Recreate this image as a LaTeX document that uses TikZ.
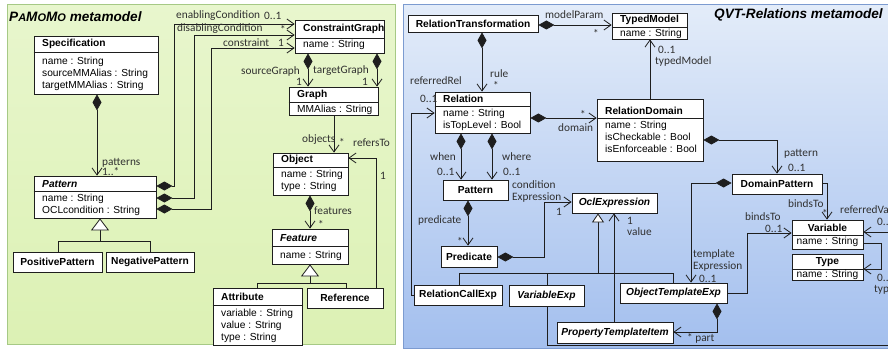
\documentclass[tikz,border=0pt]{standalone}
\usepackage{fontspec}
\setmainfont{Liberation Sans}
\newfontfamily\rolefont{Carlito}
\usetikzlibrary{arrows.meta,fit,shadows}

\definecolor{greenTop}{HTML}{E8F6CD}
\definecolor{greenBot}{HTML}{DCF1B4}
\definecolor{greenEdge}{HTML}{A6C985}
\definecolor{blueTop}{HTML}{E3ECF9}
\definecolor{blueBot}{HTML}{A3BFEE}
\definecolor{blueEdge}{HTML}{7C9BD0}
\definecolor{ink}{HTML}{1E1E1E}
\definecolor{roleink}{HTML}{303030}

\tikzset{
  x=1pt, y=-1pt,
  cls/.style={draw=ink, line width=0.8pt, fill=white, inner sep=0pt,
    drop shadow={shadow xshift=1pt, shadow yshift=-1pt, fill=black!45, opacity=0.8}},
  divline/.style={draw=ink, line width=0.8pt},
  hdr/.style={inner sep=0pt, font=\fontsize{10.2}{12}\selectfont\bfseries},
  ihdr/.style={inner sep=0pt, font=\fontsize{10.2}{12}\selectfont\bfseries\itshape},
  attr/.style={inner sep=0pt, anchor=north west, align=left, font=\fontsize{10.2}{12}\selectfont},
  role/.style={inner sep=0pt, anchor=west, text=roleink, font=\fontsize{11.3}{12}\selectfont\rolefont},
  wire/.style={draw=ink, line width=0.8pt},
  nav/.style={wire, -{Straight Barb[length=7pt,width=10pt]}},
  comp/.style={wire, {Diamond[length=16pt,width=9pt]}-{Straight Barb[length=7pt,width=10pt]}},
  gen/.style={wire, -{Triangle[open,length=12pt,width=18pt,fill=white]}},
  sgen/.style={wire, -{Triangle[open,length=9pt,width=12pt,fill=white]}},
  title/.style={inner sep=0pt, anchor=west, font=\fontsize{13.6}{15}\selectfont\bfseries\itshape},
}

\begin{document}
\begin{tikzpicture}
\useasboundingbox (0,0) rectangle (888,350);
\clip (0,0) rectangle (888,350);

% ---------- panels ----------
\path[top color=greenTop, bottom color=greenBot, draw=greenEdge, line width=1pt]
  (7,5) rectangle (395,344);
\path[top color=blueTop, bottom color=blueBot, draw=blueEdge, line width=1pt]
  (403,5) rectangle (900,348);

\node[title] (ltitle) at (9,17)
  {P{\fontsize{11}{12}\selectfont A}M{\fontsize{11}{12}\selectfont O}M{\fontsize{11}{12}\selectfont O} metamodel};
\node[title] (rtitle) at (714,15) {QVT-Relations metamodel};

% ---------- PaMoMo classes ----------
\node[cls, fit={(34,36)(158,94)}] (spec) {};
\draw[divline] (spec.west |- 0,52) -- (spec.east |- 0,52);
\node[hdr, anchor=west] (spec-h) at (42,44) {Specification};
\node[attr] (spec-a) at (42,56.5) {name : String\\sourceMMAlias : String\\targetMMAlias : String};

\node[cls, fit={(295,20)(384,53)}] (cgraph) {};
\draw[divline] (cgraph.west |- 0,38) -- (cgraph.east |- 0,38);
\node[hdr, anchor=west] (cgraph-h) at (303,29) {ConstraintGraph};
\node[attr] (cgraph-a) at (303,39.5) {name : String};

\node[cls, fit={(289,87)(378,115)}] (graph) {};
\draw[divline] (graph.west |- 0,102) -- (graph.east |- 0,102);
\node[hdr, anchor=west] (graph-h) at (297,95) {Graph};
\node[attr] (graph-a) at (297,104.5) {MMAlias : String};

\node[cls, fit={(273,153)(348,195)}] (object) {};
\draw[divline] (object.west |- 0,167) -- (object.east |- 0,167);
\node[hdr, anchor=west] (object-h) at (281,160) {Object};
\node[attr] (object-a) at (281,169.5) {name : String\\type : String};

\node[cls, fit={(34,176)(156,218)}] (pattern) {};
\draw[divline] (pattern.west |- 0,191) -- (pattern.east |- 0,191);
\node[ihdr, anchor=west] (pattern-h) at (42,184) {Pattern};
\node[attr] (pattern-a) at (42,193.5) {name : String\\OCLcondition : String};

\node[cls, fit={(13,252)(102,272)}] (pospat) {};
\node[hdr] (pospat-h) at (pospat.center) {PositivePattern};
\node[cls, fit={(106,252)(194,272)}] (negpat) {};
\node[hdr] (negpat-h) at (negpat.center) {NegativePattern};

\node[cls, fit={(272,229)(348,264)}] (feature) {};
\draw[divline] (feature.west |- 0,246) -- (feature.east |- 0,246);
\node[ihdr, anchor=west] (feature-h) at (280,238) {Feature};
\node[attr] (feature-a) at (280,250.5) {name : String};

\node[cls, fit={(213,288)(302,345)}] (attribute) {};
\draw[divline] (attribute.west |- 0,305) -- (attribute.east |- 0,305);
\node[hdr, anchor=west] (attribute-h) at (221,297) {Attribute};
\node[attr] (attribute-a) at (221,308.5) {variable : String\\value : String\\type : String};

\node[cls, fit={(307,288)(383,308)}] (reference) {};
\node[hdr] (reference-h) at (reference.center) {Reference};

% ---------- PaMoMo connectors ----------
\draw[comp] (spec.south -| 97,0) -- (pattern.north -| 97,0);
\node[role] (r-patterns) at (102,163) {patterns};
\node[role] (r-patterns-m) at (102,172) {1..*};

\draw[comp] (pattern.east |- 0,186) -- (174,186) -- (174,24) -- (cgraph.west |- 0,24);
\node[role] (r-enab) at (176,16) {enablingCondition};
\node[role] (r-enab-m) at (264,16) {0..1};
\draw[comp] (pattern.east |- 0,198) -- (194,198) -- (194,35) -- (cgraph.west |- 0,35);
\node[role] (r-disab) at (177,29) {disablingCondition};
\node[role] (r-disab-m) at (280,29) {*};
\draw[comp] (pattern.east |- 0,209) -- (211,209) -- (211,48) -- (cgraph.west |- 0,48);
\node[role] (r-constr) at (223,42.5) {constraint};
\node[role] (r-constr-m) at (278,42.5) {1};

\draw[comp] (cgraph.south -| 308,0) -- (graph.north -| 308,0);
\node[role] (r-src) at (241,71) {sourceGraph};
\node[role] (r-src-m) at (296,82) {1};
\draw[comp] (cgraph.south -| 377,0) -- (graph.north -| 377,0);
\node[role] (r-tgt) at (313,71) {targetGraph};
\node[role] (r-tgt-m) at (362,82) {1};

\draw[nav] (graph.south -| 334,0) -- (object.north -| 334,0);
\node[role] (r-obj) at (302,140) {objects};
\node[role] (r-obj-m) at (339,142) {*};

\draw[nav] (reference.north -| 376,0) -- (376,158) -- (object.east |- 0,158);
\node[role] (r-refers) at (353,143) {refersTo};
\node[role] (r-refers-m) at (380,176) {1};

\draw[comp] (object.south -| 310,0) -- (feature.north -| 310,0);
\node[role] (r-feat) at (314,211) {features};
\node[role] (r-feat-m) at (318,224) {*};

% generalisations
\draw[wire] (pospat.north -| 58,0) -- (58,241) -- (150,241) -- (negpat.north -| 150,0);
\draw[gen] (100,241) -- (pattern.south -| 100,0);
\draw[wire] (attribute.north -| 257,0) -- (257,283) -- (346,283) -- (reference.north -| 346,0);
\draw[gen] (310,283) -- (feature.south -| 310,0);

% ---------- QVT-Relations classes ----------
\node[cls, fit={(408,15)(538,32)}] (reltrans) {};
\node[hdr] (reltrans-h) at (reltrans.center) {RelationTransformation};

\node[cls, fit={(612,13)(687,39)}] (typedmodel) {};
\draw[divline] (typedmodel.west |- 0,27) -- (typedmodel.east |- 0,27);
\node[hdr, anchor=west] (typedmodel-h) at (620,20) {TypedModel};
\node[attr] (typedmodel-a) at (620,28.5) {name : String};

\node[cls, fit={(435,92)(530,133)}] (relation) {};
\draw[divline] (relation.west |- 0,106) -- (relation.east |- 0,106);
\node[hdr, anchor=west] (relation-h) at (443,99) {Relation};
\node[attr] (relation-a) at (443,108.5) {name : String\\isTopLevel : Bool};

\node[cls, fit={(597,99)(703,161)}] (reldomain) {};
\draw[divline] (reldomain.west |- 0,118) -- (reldomain.east |- 0,118);
\node[hdr, anchor=west] (reldomain-h) at (605,111) {RelationDomain};
\node[attr] (reldomain-a) at (605,120.5) {name : String\\isCheckable : Bool\\isEnforceable : Bool};

\node[cls, fit={(443,180)(508,200)}] (rpattern) {};
\node[hdr] (rpattern-h) at (rpattern.center) {Pattern};

\node[cls, fit={(441,246)(497,267)}] (predicate) {};
\node[hdr] (predicate-h) at (predicate.center) {Predicate};

\node[cls, fit={(572,193)(657,213)}] (oclexp) {};
\node[ihdr] (oclexp-h) at (oclexp.center) {OclExpression};

\node[cls, fit={(732,174)(822,194)}] (dompat) {};
\node[hdr] (dompat-h) at (dompat.center) {DomainPattern};

\node[cls, fit={(792,220)(863,249)}] (variable) {};
\draw[divline] (variable.west |- 0,235) -- (variable.east |- 0,235);
\node[hdr] (variable-h) at (827.5,227.5) {Variable};
\node[attr, anchor=center] (variable-a) at (827.5,242) {name : String};

\node[cls, fit={(792,254)(863,280)}] (type) {};
\draw[divline] (type.west |- 0,269) -- (type.east |- 0,269);
\node[hdr] (type-h) at (827.5,262) {Type};
\node[attr, anchor=center] (type-a) at (827.5,275) {name : String};

\node[cls, fit={(414,285)(502,305)}] (relcall) {};
\node[hdr] (relcall-h) at (relcall.center) {RelationCallExp};

\node[cls, fit={(509,285)(584,306)}] (varexp) {};
\node[ihdr] (varexp-h) at (varexp.center) {VariableExp};

\node[cls, fit={(620,283)(727,303)}] (objtempl) {};
\node[ihdr] (objtempl-h) at (objtempl.center) {ObjectTemplateExp};

\node[cls, fit={(557,322)(673,343)}] (proptempl) {};
\node[ihdr] (proptempl-h) at (proptempl.center) {PropertyTemplateItem};

% ---------- QVT-Relations connectors ----------
\draw[comp] (reltrans.east |- 0,25) -- (typedmodel.west |- 0,25);
\node[role] (q-mp) at (545,15) {modelParam};
\node[role] (q-mp-m) at (593,33) {*};

\draw[comp] (reltrans.south -| 482,0) -- (relation.north -| 482,0);
\node[role] (q-rule) at (490,74) {rule};
\node[role] (q-rule-m) at (493,85) {*};

\draw[nav] (relcall.west) -- (411,295) -- (411,113) -- (relation.west |- 0,113);
\node[role] (q-ref) at (410,81) {referredRel};
\node[role] (q-ref-m) at (420,99) {0..1};

\draw[comp] (relation.east |- 0,118) -- (reldomain.west |- 0,118);
\node[role] (q-dom-m) at (580,114) {*};
\node[role] (q-dom) at (558,128) {domain};

\draw[nav] (reldomain.north -| 650,0) -- (typedmodel.south -| 650,0);
\node[role] (q-tm-m) at (658,49.5) {0..1};
\node[role] (q-tm) at (655,61.5) {typedModel};

\draw[comp] (reldomain.east |- 0,140) -- (777,140) -- (dompat.north -| 777,0);
\node[role] (q-pat) at (784,154) {pattern};
\node[role] (q-pat-m) at (788,168) {0..1};

\draw[comp] (dompat.west |- 0,183) -- (691,183) -- (objtempl.north -| 691,0);
\node[role] (q-te1) at (693,254) {template};
\node[role] (q-te2) at (693,267) {Expression};
\node[role] (q-te-m) at (699,278.5) {0..1};

\draw[nav] (dompat.east |- 0,183) -- (827,183) -- (variable.north -| 827,0);
\node[role] (q-bt1) at (788,204) {bindsTo};
\node[role] (q-bt1-m) at (822,213) {*};

\draw[nav] (objtempl.east |- 0,293) -- (747,293) -- (747,233) -- (variable.west |- 0,233);
\node[role] (q-bt2) at (745,217) {bindsTo};
\node[role] (q-bt2-m) at (765,229) {0..1};

\coordinate (offright-lo) at (900,345);
\coordinate (offright-hi) at (900,232);
\draw[nav] (varexp.south -| 547,0) -- (547,345) -- (offright-lo) -- (offright-hi) -- (variable.east |- 0,232);
\node[role] (q-rv) at (840,210) {referredVariable};
\node[role] (q-rv-m) at (877,222) {0..1};

\draw[nav] (variable.east |- 0,243) -- (881,243) -- (881,269) -- (type.east |- 0,269);
\node[role] (q-ty-m) at (877,278) {0..1};
\node[role] (q-ty) at (874,290) {type};

\draw[nav] (proptempl.north -| 614,0) -- (oclexp.south -| 614,0);
\node[role] (q-val-m) at (627,221) {1};
\node[role] (q-val) at (627,232) {value};

\draw[comp] (objtempl.south -| 717,0) -- (717,332) -- (proptempl.east |- 0,332);
\node[role] (q-part) at (687,338) {* part};

\draw[comp] (relation.south -| 461,0) -- (rpattern.north -| 461,0);
\node[role] (q-when) at (430,157) {when};
\node[role] (q-when-m) at (437,172) {0..1};
\draw[comp] (relation.south -| 492,0) -- (rpattern.north -| 492,0);
\node[role] (q-where) at (502,157) {where};
\node[role] (q-where-m) at (503,172) {0..1};

\draw[comp] (rpattern.south -| 468,0) -- (predicate.north -| 468,0);
\node[role] (q-pred) at (418,220) {predicate};
\node[role] (q-pred-m) at (457,241) {*};

\draw[comp] (predicate.east |- 0,257) -- (544,257) -- (544,202) -- (oclexp.west |- 0,202);
\node[role] (q-ce1) at (512,185) {condition};
\node[role] (q-ce2) at (512,198) {Expression};
\node[role] (q-ce-m) at (556,212) {1};

% generalisation onto OclExpression
\draw[wire] (relcall.north -| 459,0) -- (459,273) -- (673,273) -- (objtempl.north -| 673,0);
\draw[wire] (547,273) -- (varexp.north -| 547,0);
\draw[sgen] (598,273) -- (oclexp.south -| 598,0);
\end{tikzpicture}
\end{document}
